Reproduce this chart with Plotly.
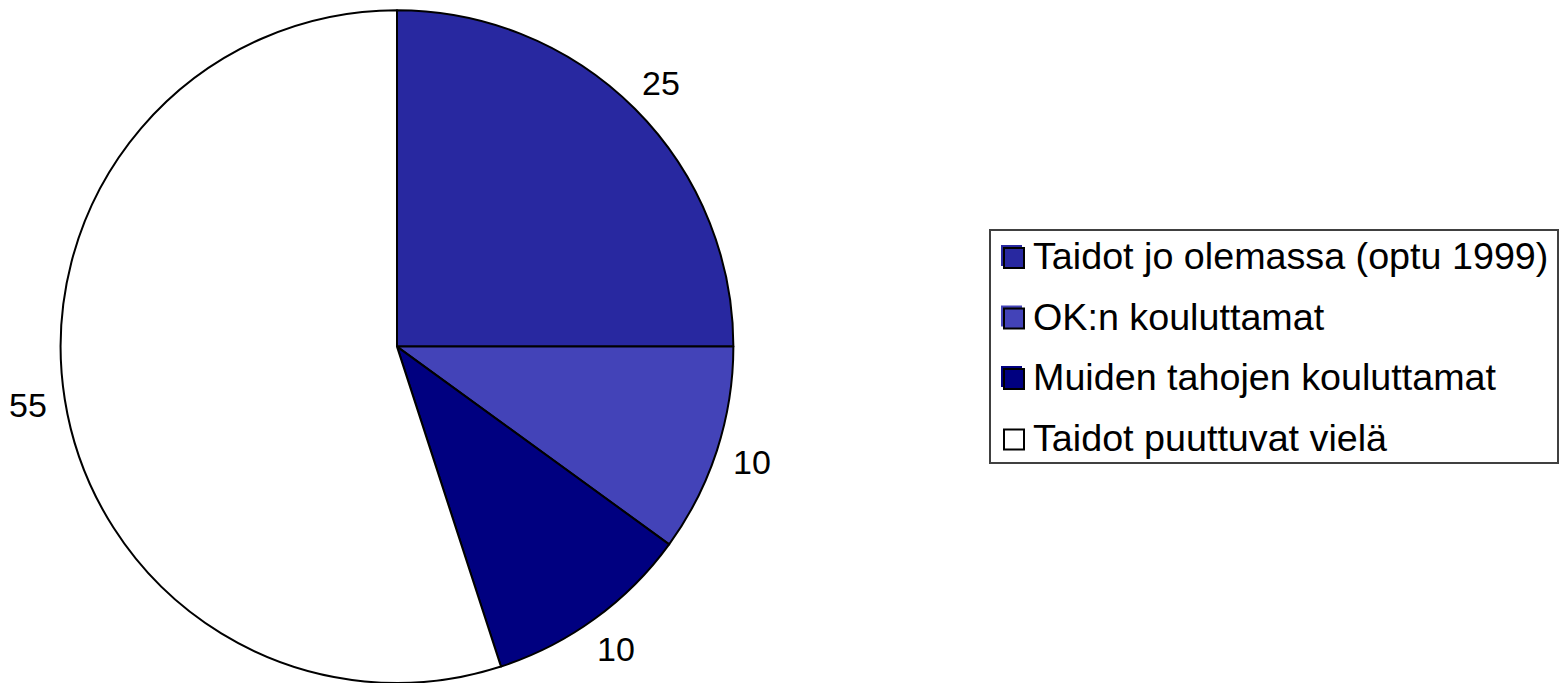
import math
import plotly.graph_objects as go

labels = ["Taidot jo olemassa (optu 1999)", "OK:n kouluttamat",
          "Muiden tahojen kouluttamat", "Taidot puuttuvat vielä"]
values = [25, 10, 10, 55]
colors = ["#2828A0", "#4343B8", "#000080", "#FFFFFF"]

W, H = 1567, 683
FONT = "Liberation Sans, Arial, sans-serif"
dom_x = [60 / W, 734 / W]
dom_y = [0, 0.985]

fig = go.Figure()
fig.add_trace(go.Pie(
    labels=labels, values=values, sort=False, direction="clockwise", rotation=0,
    marker=dict(colors=colors, line=dict(color="black", width=2)),
    textinfo="none",
    showlegend=False, hoverinfo="label+value",
    domain=dict(x=dom_x, y=dom_y),
))

# value labels placed outside the pie, along each slice's mid-angle
cx = (dom_x[0] + dom_x[1]) / 2 * W
cy_pie = (dom_y[0] + dom_y[1]) / 2 * H
radius = min((dom_x[1] - dom_x[0]) * W, (dom_y[1] - dom_y[0]) * H) / 2
label_r = radius * 1.11
total = sum(values)
cum = 0
for v in values:
    mid = (cum + v / 2) / total * 2 * math.pi
    cum += v
    px = cx + label_r * math.sin(mid)
    py = cy_pie + label_r * math.cos(mid)
    fig.add_annotation(xref="paper", yref="paper", x=px / W, y=py / H,
                       text=str(v), showarrow=False, xanchor="center", yanchor="middle",
                       font=dict(family=FONT, size=34, color="black"))

# legend box
lx0, ly0, lx1, ly1 = 990, 230, 1558, 463
fig.add_shape(type="rect", xref="paper", yref="paper",
              x0=lx0 / W, x1=lx1 / W, y0=1 - ly0 / H, y1=1 - ly1 / H,
              line=dict(color="#404040", width=2), fillcolor="white", layer="below")
row_h = 60.5
first_c = 258
for i, (lab, col) in enumerate(zip(labels, colors)):
    cy = first_c + i * row_h
    if col.upper() != "#FFFFFF":
        fig.add_shape(type="rect", xref="paper", yref="paper",
                      x0=1001 / W, x1=1022 / W, y0=1 - (cy - 13) / H, y1=1 - (cy + 8) / H,
                      line=dict(width=0), fillcolor=col)
    fig.add_shape(type="rect", xref="paper", yref="paper",
                  x0=1004 / W, x1=1024 / W, y0=1 - (cy - 10) / H, y1=1 - (cy + 10) / H,
                  line=dict(color="black", width=2), fillcolor=col)
    fig.add_annotation(xref="paper", yref="paper", x=1031 / W, y=1 - (cy - 2) / H,
                       text=lab, showarrow=False, xanchor="left", yanchor="middle",
                       font=dict(family=FONT, size=37.7, color="black"))

fig.update_layout(width=W, height=H, margin=dict(l=0, r=0, t=0, b=0),
                  paper_bgcolor="white", plot_bgcolor="white")
fig.write_html("out.html", config={"displayModeBar": False},
               post_script="document.body.style.margin='0';")
